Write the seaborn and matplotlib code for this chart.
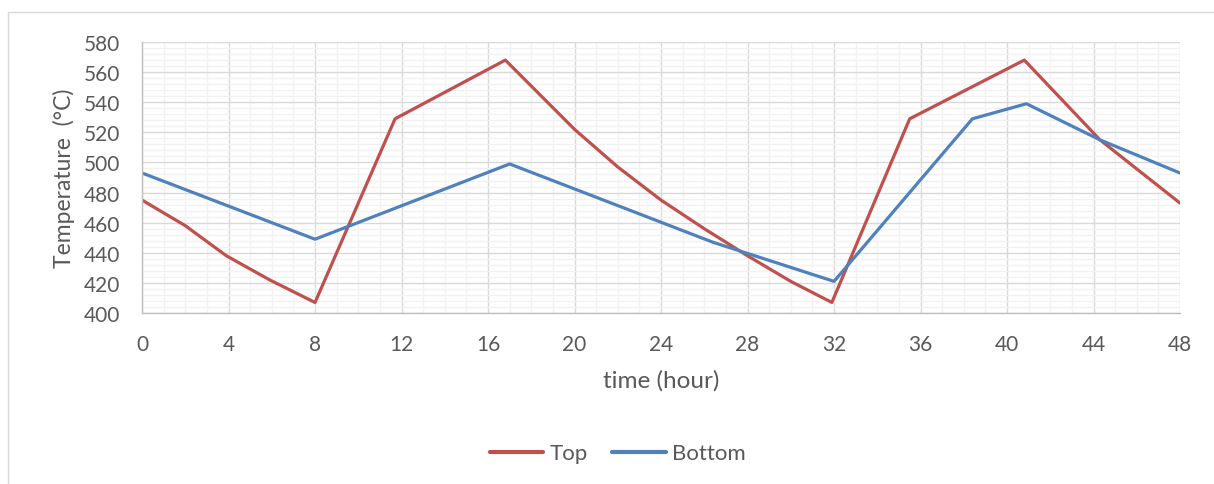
import matplotlib
matplotlib.use("Agg")
import matplotlib.pyplot as plt
from matplotlib.patches import Rectangle
from matplotlib.ticker import MultipleLocator
import pandas as pd
import seaborn as sns

# Surface temperatures over two daily cycles
hours_top = [0, 2, 3.9, 5.9, 8, 11.7, 16.8, 20, 22, 24, 26, 28, 30, 31.9, 35.5, 40.8, 44.3, 48]
temp_top = [475, 458, 438, 422, 407, 529, 568, 522, 497, 475, 456, 438, 421, 407, 529, 568, 515, 473]

hours_bottom = [0, 8, 17, 26.4, 32, 38.4, 40.9, 44.3, 48]
temp_bottom = [493, 449, 499, 447, 421, 529, 539, 515, 493]

series_names = ["Top", "Bottom"]
colors = ["#C0504D", "#4F81BD"]

df = pd.concat([
    pd.DataFrame({"time": hours_top, "temp": temp_top, "series": series_names[0]}),
    pd.DataFrame({"time": hours_bottom, "temp": temp_bottom, "series": series_names[1]}),
])

sns.set_theme(style="white")
plt.rcParams["font.family"] = ["Lato", "DejaVu Sans"]
text_color = "#595959"

fig = plt.figure(figsize=(12.14, 4.85), dpi=100)
ax = fig.add_axes([0.117, 0.3526, 0.855, 0.5587])

# chart frame
fig.patches.append(Rectangle((8 / 1214, -0.05), 1.2, 1 - 13 / 485 + 0.05,
                             transform=fig.transFigure, fill=False,
                             edgecolor="#D9D9D9", linewidth=1.0))

sns.lineplot(data=df, x="time", y="temp", hue="series", palette=colors,
             sort=False, estimator=None, linewidth=2.3, ax=ax, legend=False)

ax.set_xlim(0, 48)
ax.set_ylim(400, 580)
ax.xaxis.set_major_locator(MultipleLocator(4))
ax.xaxis.set_minor_locator(MultipleLocator(1))
ax.yaxis.set_major_locator(MultipleLocator(20))
ax.yaxis.set_minor_locator(MultipleLocator(4))
ax.grid(which="minor", color="#F2F2F2", linewidth=1.0)
ax.grid(which="major", color="#D9D9D9", linewidth=1.0)
ax.set_axisbelow(True)
ax.tick_params(which="both", length=0, labelsize=15, labelcolor=text_color)
ax.tick_params(axis="y", pad=16)
ax.tick_params(axis="x", pad=15)
for side in ["top", "right"]:
    ax.spines[side].set_visible(False)
for side in ["left", "bottom"]:
    ax.spines[side].set_color("#BFBFBF")
    ax.spines[side].set_linewidth(1.0)

ax.set_xlabel("time (hour)", fontsize=17.5, color=text_color, labelpad=11)
ax.set_ylabel("Temperature  (°C)", fontsize=16.5, color=text_color, labelpad=6)

handles = [plt.Line2D([], [], color=c, linewidth=3) for c in colors]
fig.legend(handles, series_names, loc="center", bbox_to_anchor=(0.509, 0.063),
           ncol=2, frameon=False, fontsize=16, labelcolor=text_color,
           handlelength=2.4, handletextpad=0.3, columnspacing=1.1)

fig.savefig("out.png", dpi=100)
